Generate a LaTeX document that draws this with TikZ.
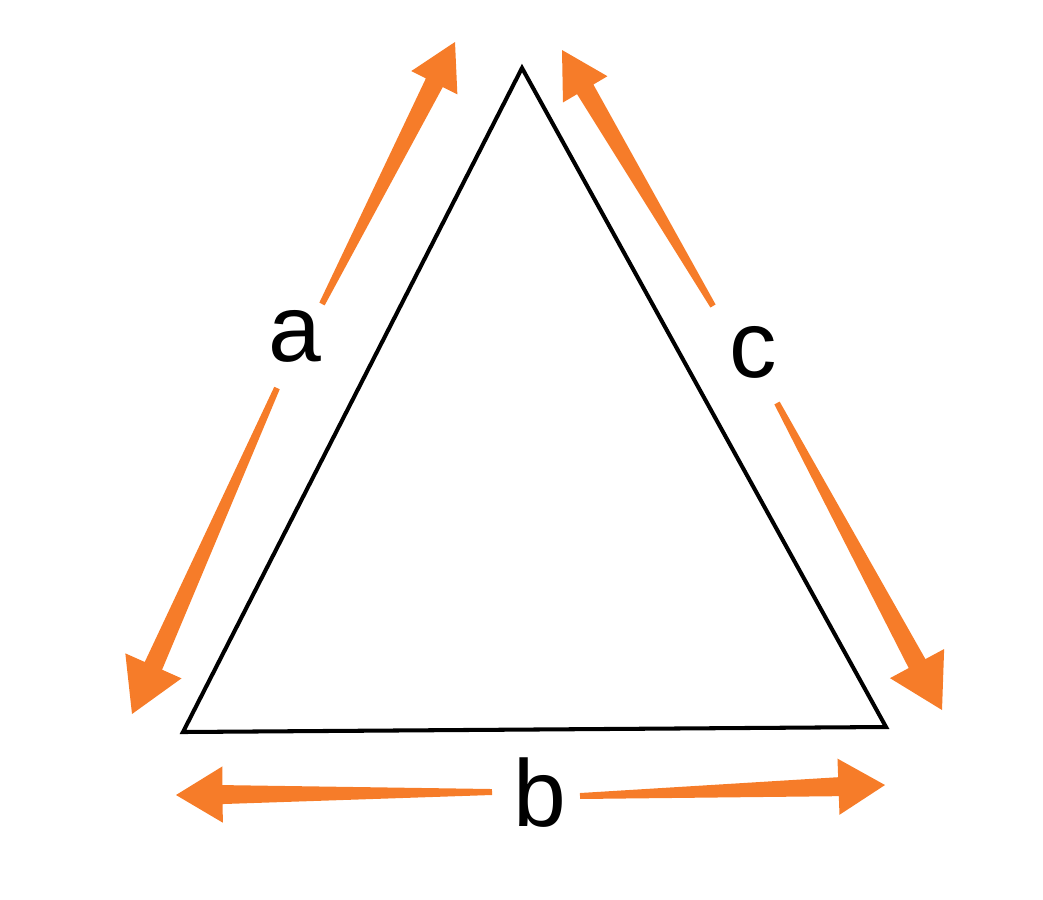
\documentclass[tikz,border=0pt]{standalone}
\usepackage{fontspec}
\setmainfont{Liberation Sans}
\usetikzlibrary{calc}
\definecolor{arroworange}{RGB}{246,124,41}
\tikzstyle{side} = [draw=black, line width=2.3pt, line join=miter]
\tikzstyle{arrowfill} = [fill=arroworange, draw=none]
\tikzstyle{sidelabel} = [font=\fontsize{54}{60}\selectfont, inner sep=0pt]

% tapered arrow: tail, tip, head length, head half width
\newcommand{\taper}[4]{%
  \path ($(#2)!#3!(#1)$) coordinate (#2base);
  \fill[arrowfill] ($(#1)!1.7pt!90:(#2)$) -- ($(#2base)!5.4pt!90:(#2)$) -- ($(#2base)!#4!90:(#2)$)
    -- (#2) -- ($(#2base)!#4!-90:(#2)$) -- ($(#2base)!5.4pt!-90:(#2)$) -- ($(#1)!1.7pt!-90:(#2)$) -- cycle;
}

\begin{document}
\begin{tikzpicture}[x=0.02cm, y=-0.02cm]
\useasboundingbox (0,0) rectangle (1043,899);

\coordinate (top) at (522,68);
\coordinate (left) at (183,732);
\coordinate (right) at (886,727);

\node (a) [sidelabel] at (295,336) {a};
\node (c) [sidelabel] at (753,352) {c};
\node (b) [sidelabel] at (540,793) {b};

\coordinate (a1) at (322,304);
\coordinate (a2) at (455,42);
\coordinate (a3) at (277,388);
\coordinate (a4) at (132,714);
\coordinate (c1) at (713,306);
\coordinate (c2) at (562,50);
\coordinate (c3) at (777,403);
\coordinate (c4) at (942,710);
\coordinate (b1) at (492,792);
\coordinate (b2) at (176,795);
\coordinate (b3) at (580,796);
\coordinate (b4) at (885,785);

%%% drawing %%%%%%%%%%%%%%%%%%%%%%%
\draw [side] (top) -- (left) -- (right) -- cycle;

\taper{a1}{a2}{26pt}{14.7pt}
\taper{a3}{a4}{30pt}{17.5pt}
\taper{c1}{c2}{26pt}{14.7pt}
\taper{c3}{c4}{30pt}{17.5pt}
\taper{b1}{b2}{26.5pt}{16pt}
\taper{b3}{b4}{26.5pt}{16pt}
\end{tikzpicture}
\end{document}
